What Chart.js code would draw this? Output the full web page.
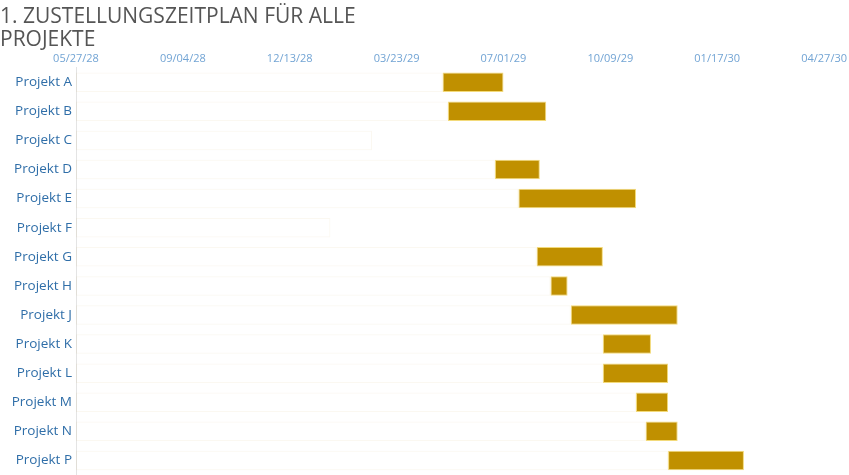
<!DOCTYPE html>
<html>
<head>
<meta charset="utf-8">
<script src="https://cdn.jsdelivr.net/npm/chart.js@4.4.1/dist/chart.umd.min.js"></script>
<style>
  body { margin: 0; background: #fff; }
  #wrap { width: 849px; height: 475px; }
</style>
</head>
<body>
<div id="wrap"><canvas id="myChart" width="849" height="475"></canvas></div>
<script>
// axis starts here, ticks every 100 days
const axisStart = "2028-05-27";
const axisDays = 700;
const tickStep = 100;

const projects = ["Projekt A", "Projekt B", "Projekt C", "Projekt D", "Projekt E", "Projekt F", "Projekt G",
  "Projekt H", "Projekt J", "Projekt K", "Projekt L", "Projekt M", "Projekt N", "Projekt P"];

const startDates = ["2029-05-05", "2029-05-10", "2029-02-28", "2029-06-23", "2029-07-15", "2029-01-20", "2029-08-01",
  "2029-08-14", "2029-09-02", "2029-10-02", "2029-10-02", "2029-11-02", "2029-11-11", "2029-12-02"];

const endDates = ["2029-07-01", "2029-08-10", "2029-02-28", "2029-08-04", "2029-11-02", "2029-01-20", "2029-10-02",
  "2029-08-30", "2029-12-11", "2029-11-16", "2029-12-02", "2029-12-02", "2029-12-11", "2030-02-11"];

const DAY = 86400000;
const base = Date.parse(axisStart);

const toDays = (d) => (Date.parse(d) - base) / DAY;

const pad2 = (n) => (n < 10 ? "0" : "") + n;
const formatDate = (days) => {
  const d = new Date(base + days * DAY);
  return pad2(d.getUTCMonth() + 1) + "/" + pad2(d.getUTCDate()) + "/" + pad2(d.getUTCFullYear() % 100);
};

const offsetData = startDates.map((s) => [0, toDays(s)]);
const taskData = startDates.map((s, i) => [toDays(s), toDays(endDates[i])]);

const ctx = document.getElementById("myChart").getContext("2d");
const myChart = new Chart(ctx, {
  type: "bar",
  data: {
    labels: projects,
    datasets: [
      {
        label: "Dauer",
        data: taskData,
        backgroundColor: "#c09000",
        borderColor: "#f3da7a",
        borderWidth: 1,
        borderSkipped: false,
        grouped: false,
        barPercentage: 0.67,
        categoryPercentage: 1,
        order: 1,
      },
      {
        label: "Start",
        data: offsetData,
        backgroundColor: "rgba(255,255,255,0)",
        borderColor: "rgba(200,160,60,0.07)",
        borderWidth: 1,
        borderSkipped: false,
        grouped: false,
        barPercentage: 0.67,
        categoryPercentage: 1,
        order: 2,
      },
    ],
  },
  options: {
    responsive: false,
    animation: false,
    indexAxis: "y",
    layout: { padding: 0 },
    plugins: {
      legend: { display: false },
      tooltip: { enabled: false },
      title: {
        display: true,
        text: ["1. ZUSTELLUNGSZEITPLAN FÜR ALLE", "PROJEKTE"],
        align: "start",
        color: "#555555",
        font: { family: "Open Sans", size: 21, weight: "normal", lineHeight: 1.1 },
        padding: { top: 5, bottom: 0 },
      },
    },
    scales: {
      x: {
        type: "linear",
        position: "top",
        min: 0,
        max: axisDays,
        grid: { display: false, drawTicks: false },
        border: { display: false },
        ticks: {
          stepSize: tickStep,
          color: "#72a4d4",
          font: { family: "Open Sans", size: 11 },
          padding: 2,
          maxRotation: 0,
          callback: (v) => formatDate(v),
        },
        afterFit: (scale) => { scale.height = 16.5; },
      },
      y: {
        grid: { display: false, drawTicks: false },
        border: { display: true, color: "#e4e4e4" },
        ticks: {
          color: "#2f6ea8",
          font: { family: "Open Sans", size: 13.5 },
          padding: 4,
        },
        afterFit: (scale) => {
          scale.width = 76;
          scale.paddingTop = 0;
          scale.paddingBottom = 0;
        },
      },
    },
  },
});
</script>
</body>
</html>
